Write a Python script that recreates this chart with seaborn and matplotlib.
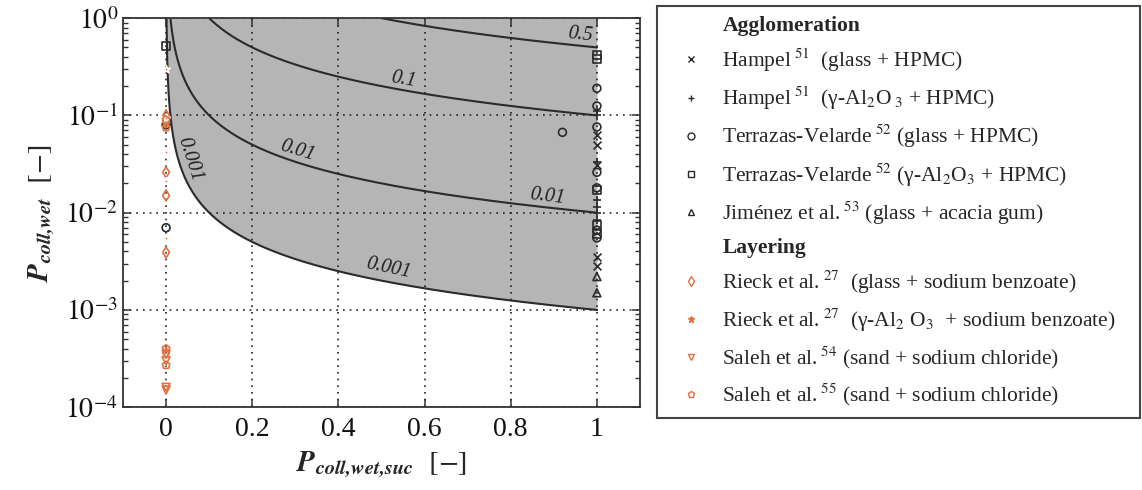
import numpy as np
import pandas as pd
import matplotlib
matplotlib.use("Agg")
import matplotlib.pyplot as plt
from matplotlib.lines import Line2D
import seaborn as sns

# ---- data: (P_coll,wet,suc , P_coll,wet) per study ----
hampel_glass_x = [1, 1, 1, 1, 1]
hampel_glass_y = [0.063, 0.05, 0.031, 0.0035, 0.0028]

hampel_alox_x = [1, 1, 1, 1, 1, 1, 1]
hampel_alox_y = [0.11, 0.1, 0.033, 0.0135, 0.0115, 0.01, 0.0085]

terrazas_glass_x = [1, 1, 1, 1, 1, 1, 1, 0.92, 0, 0]
terrazas_glass_y = [0.19, 0.125, 0.076, 0.026, 0.018, 0.0066, 0.0055, 0.067, 0.08, 0.007]

terrazas_alox_x = [1, 1, 1, 1, 1, 0]
terrazas_alox_y = [0.42, 0.38, 0.017, 0.0075, 0.006, 0.52]

jimenez_x = [1, 1]
jimenez_y = [0.0022, 0.0015]

rieck_glass_x = [0, 0, 0, 0, 0, 0]
rieck_glass_y = [0.1, 0.085, 0.026, 0.015, 0.0039, 0.00036]

rieck_alox_x = [0, 0, 0, 0, 0, 0, 0]
rieck_alox_y = [0.30, 0.095, 0.042, 0.021, 0.0055, 0.00032, 0.00029]

saleh54_x = [0, 0, 0, 0]
saleh54_y = [0.00035, 0.0003, 0.00016, 0.00015]

saleh55_x = [0, 0, 0, 0]
saleh55_y = [0.09, 0.075, 0.0004, 0.00027]

# iso-lines of P_coll,wet * P_coll,wet,suc
iso_levels = [0.001, 0.01, 0.1, 0.5]
shade_level = 0.001

x_ticks = [0, 0.2, 0.4, 0.6, 0.8, 1]
x_tick_labels = ["0", "0.2", "0.4", "0.6", "0.8", "1"]
y_ticks = [1e-4, 1e-3, 1e-2, 1e-1, 1e0]
y_tick_labels = [r"$10^{-4}$", r"$10^{-3}$", r"$10^{-2}$", r"$10^{-1}$", r"$10^{0}$"]

ORANGE = "#e2703f"
BLACK = "#2a2a2a"

series = [
    ("Hampel$^{\\ 51}$  (glass + HPMC)", hampel_glass_x, hampel_glass_y, "x", BLACK, False),
    ("Hampel$^{\\ 51}$  (γ-Al$_2$O$_{\\ 3}$ + HPMC)", hampel_alox_x, hampel_alox_y, "+", BLACK, False),
    ("Terrazas-Velarde$^{\\ 52}$ (glass + HPMC)", terrazas_glass_x, terrazas_glass_y, "o", BLACK, True),
    ("Terrazas-Velarde$^{\\ 52}$ (γ-Al$_2$O$_3$ + HPMC)", terrazas_alox_x, terrazas_alox_y, "s", BLACK, True),
    ("Jiménez et al.$^{\\ 53}$ (glass + acacia gum)", jimenez_x, jimenez_y, "^", BLACK, True),
    ("Rieck et al.$^{\\ 27}$  (glass + sodium benzoate)", rieck_glass_x, rieck_glass_y, "d", ORANGE, True),
    ("Rieck et al.$^{\\ 27}$  (γ-Al$_2$ O$_3$  + sodium benzoate)", rieck_alox_x, rieck_alox_y, "*", ORANGE, False),
    ("Saleh et al.$^{\\ 54}$ (sand + sodium chloride)", saleh54_x, saleh54_y, "v", ORANGE, True),
    ("Saleh et al.$^{\\ 55}$ (sand + sodium chloride)", saleh55_x, saleh55_y, "p", ORANGE, True),
]

sns.set_theme(style="ticks")
plt.rcParams.update({
    "font.family": ["Liberation Serif", "DejaVu Serif"],
    "mathtext.fontset": "stix",
    "axes.edgecolor": "#333333",
    "axes.linewidth": 1.3,
    "xtick.color": "#333333",
    "ytick.color": "#333333",
    "xtick.labelcolor": "#111111",
    "ytick.labelcolor": "#111111",
})

fig = plt.figure(figsize=(11.42, 4.9), dpi=100)
ax = fig.add_axes([0.1077, 0.169, 0.4527, 0.794])
ax.set_yscale("log")
ax.set_xlim(-0.1, 1.1)
ax.set_ylim(1e-4, 1e0)

# shaded region where the product exceeds the lowest iso-level
xs = np.linspace(shade_level, 1, 600)
ax.fill_between(xs, shade_level / xs, 1.0, color="#b5b5b5", lw=0, zorder=1)

# iso-lines
for c in iso_levels:
    xc = np.linspace(c, 1, 600)
    sns.lineplot(x=xc, y=c / xc, ax=ax, color="#2b2b2b", lw=1.5, zorder=2, legend=False)

# iso-line labels
lab_kw = dict(fontsize=14.5, style="italic", color="#222222", ha="center", va="center", zorder=2.5)
ax.text(0.962, 0.68, "0.5", rotation=-6, **lab_kw)
ax.text(0.55, 0.235, "0.1", rotation=-10, **lab_kw)
ax.text(0.305, 0.043, "0.01", rotation=-17, **lab_kw)
ax.text(0.885, 0.0145, "0.01", rotation=-7, **lab_kw)
ax.text(0.515, 0.0027, "0.001", rotation=-12, **lab_kw)
ax.text(0.054, 0.035, "0.001", rotation=-72, **lab_kw)

# data points
handles = []
for label, xv, yv, mk, col, hollow in series:
    df = pd.DataFrame({"x": xv, "y": yv})
    if hollow:
        sns.scatterplot(data=df, x="x", y="y", ax=ax, marker=mk, s=32,
                        facecolor="none", edgecolor=col, linewidth=1.2, zorder=3, legend=False)
    else:
        sns.scatterplot(data=df, x="x", y="y", ax=ax, marker=mk, s=32,
                        color=col, linewidth=1.2, zorder=3, legend=False)
    handles.append(Line2D([], [], ls="none", marker=mk, markersize=5,
                          markerfacecolor="none" if hollow else col,
                          markeredgecolor=col, markeredgewidth=1.0, label=label))

# axes styling
ax.set_xticks(x_ticks, x_tick_labels)
ax.set_yticks(y_ticks, y_tick_labels)
ax.tick_params(which="both", direction="in", top=True, right=True, labelsize=20)
ax.tick_params(axis="x", which="major", pad=7)
ax.tick_params(which="major", length=6, width=1.1)
ax.tick_params(which="minor", length=3.5, width=1.0)
ax.tick_params(axis="x", which="minor", top=False, bottom=False)
ax.yaxis.set_minor_locator(matplotlib.ticker.LogLocator(base=10, subs=np.arange(2, 10)))
ax.yaxis.set_minor_formatter(matplotlib.ticker.NullFormatter())
ax.set_axisbelow("line")
ax.grid(True, which="major", color="#222222", ls=(0, (1, 3)), lw=1.2)

ax.set_xlabel(r"$\mathbfit{P}_{\mathbfit{coll{,}wet{,}suc}}$  $[-]$", fontsize=21, labelpad=6)
ax.set_ylabel(r"$\mathbfit{P}_{\mathbfit{coll{,}wet}}$  $[-]$", fontsize=21, labelpad=6)

# legend with section headers
blank = Line2D([], [], ls="none", marker="none")
leg_handles = [blank] + handles[:5] + [blank] + handles[5:]
leg_labels = ["Agglomeration"] + [h.get_label() for h in handles[:5]] + ["Layering"] + [h.get_label() for h in handles[5:]]
leg = fig.legend(leg_handles, leg_labels, loc="upper left",
                 bbox_to_anchor=(0.575, 0.988, 0.423, 0), mode="expand",
                 fontsize=15.5, frameon=True, fancybox=False, edgecolor="#444444",
                 framealpha=1, handlelength=2.3, handletextpad=0.3,
                 labelspacing=0.5, borderpad=0.45, borderaxespad=0)
leg.get_frame().set_linewidth(1.5)
for t in leg.get_texts():
    if t.get_text() in ("Agglomeration", "Layering"):
        t.set_fontweight("bold")

fig.savefig("out.png", dpi=100)
